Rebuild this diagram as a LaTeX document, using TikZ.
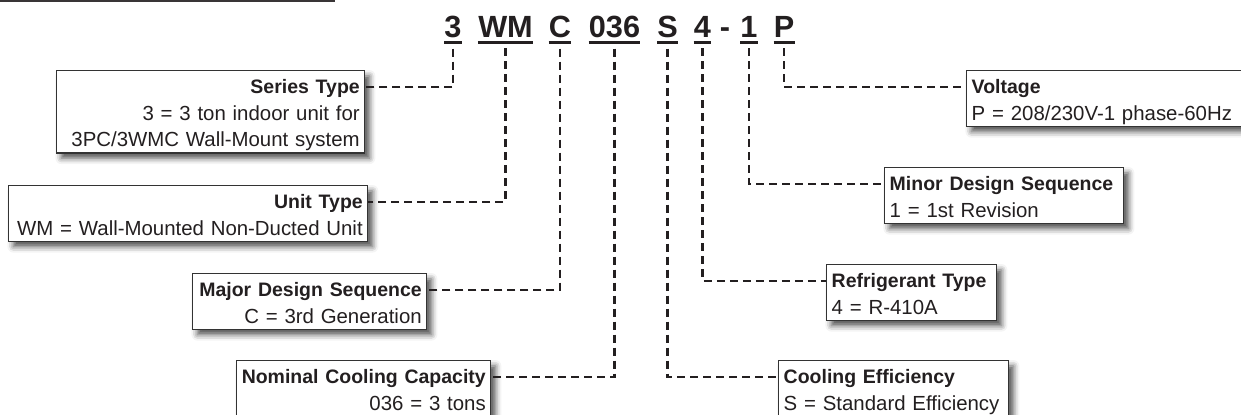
\documentclass[tikz,border=0pt]{standalone}
\usepackage{fontspec}
\setmainfont{Liberation Sans}
\usetikzlibrary{shadows.blur}
\definecolor{ink}{HTML}{231F20}
\definecolor{boxc}{HTML}{333333}
\newcommand\boxtext[2]{\rule{0pt}{17.25pt}{\fontsize{14.6}{19.9}\selectfont\bfseries #1}\\#2\rule[-4.5pt]{0pt}{4.5pt}}
\begin{document}
\begin{tikzpicture}[x=0.75pt,y=-0.75pt,
  code/.style={font=\fontsize{23}{27}\selectfont\bfseries, text=ink, inner sep=0pt, anchor=base},
  uline/.style={line width=2pt, draw=ink},
  box/.style={draw=boxc, line width=1.1pt, fill=white, text=ink, inner xsep=3.75pt, inner ysep=0pt,
    anchor=north west, font=\fontsize{15.3}{19.9}\selectfont,
    blur shadow={shadow xshift=3.5pt, shadow yshift=-4pt, shadow blur radius=4.5pt, shadow opacity=70}},
  rbox/.style={box, align=right},
  lbox/.style={box, align=left},
  conn/.style={draw=ink, line width=2pt, dash pattern=on 6pt off 3.75pt}]
\useasboundingbox (0,0) rectangle (1241,414);
\clip (0,0) rectangle (1241,414);
% top rule
\draw[draw=ink!90, line width=1.6pt] (0,0.8) -- (335,0.8);
% code letters
\node[code] (c3) at (453,37) {3};
\node[code] (cwm) at (505.5,37) {WM};
\node[code] (cc) at (560,37) {C};
\node[code] (c036) at (614.5,37) {036};
\node[code] (cs) at (667.5,37) {S};
\node[code] (c4) at (702.5,37) {4};
\node[code] (cdash) at (725,37) {-};
\node[code] (c1) at (749,37) {1};
\node[code] (cp) at (784,37) {P};
\foreach \n in {c3,cwm,cc,c036,cs,c4,c1,cp}
  \draw[uline] ([yshift=-3.75pt]\n.south west) -- ([yshift=-3.75pt]\n.south east);
% boxes
\node[rbox, text width=223.5pt] (series) at (56,70) {\boxtext{Series Type}{3 = 3 ton indoor unit for\\3PC/3WMC Wall-Mount system}};
\node[rbox, text width=261.75pt] (unit) at (8,185) {\boxtext{Unit Type}{WM = Wall-Mounted Non-Ducted Unit}};
\node[rbox, text width=168pt] (major) at (192,273) {\boxtext{Major Design Sequence}{C = 3rd Generation}};
\node[rbox, text width=183pt] (nominal) at (236,360) {\boxtext{Nominal Cooling Capacity}{036 = 3 tons}};
\node[lbox, text width=210pt] (voltage) at (966,70) {\boxtext{Voltage}{P = 208/230V-1 phase-60Hz}};
\node[lbox, text width=171.75pt] (minor) at (884,167) {\boxtext{Minor Design Sequence}{1 = 1st Revision}};
\node[lbox, text width=120pt] (refrig) at (826,264) {\boxtext{Refrigerant Type}{4 = R-410A}};
\node[lbox, text width=165pt] (cooling) at (778,360) {\boxtext{Cooling Efficiency}{S = Standard Efficiency}};
% connectors
\draw[conn] ([yshift=-8.25pt]c3.south) |- ([yshift=-12.75pt]series.north east);
\draw[conn] ([yshift=-8.25pt]cwm.south) |- ([yshift=-12.75pt]unit.north east);
\draw[conn] ([yshift=-8.25pt]cc.south) |- ([yshift=-12.75pt]major.north east);
\draw[conn] ([yshift=-8.25pt]c036.south) |- ([yshift=-12.75pt]nominal.north east);
\draw[conn] ([yshift=-8.25pt]cs.south) |- ([yshift=-12.75pt]cooling.north west);
\draw[conn] ([yshift=-8.25pt]c4.south) |- ([yshift=-12.75pt]refrig.north west);
\draw[conn] ([yshift=-8.25pt]c1.south) |- ([yshift=-12.75pt]minor.north west);
\draw[conn] ([yshift=-8.25pt]cp.south) |- ([yshift=-12.75pt]voltage.north west);
\end{tikzpicture}
\end{document}
